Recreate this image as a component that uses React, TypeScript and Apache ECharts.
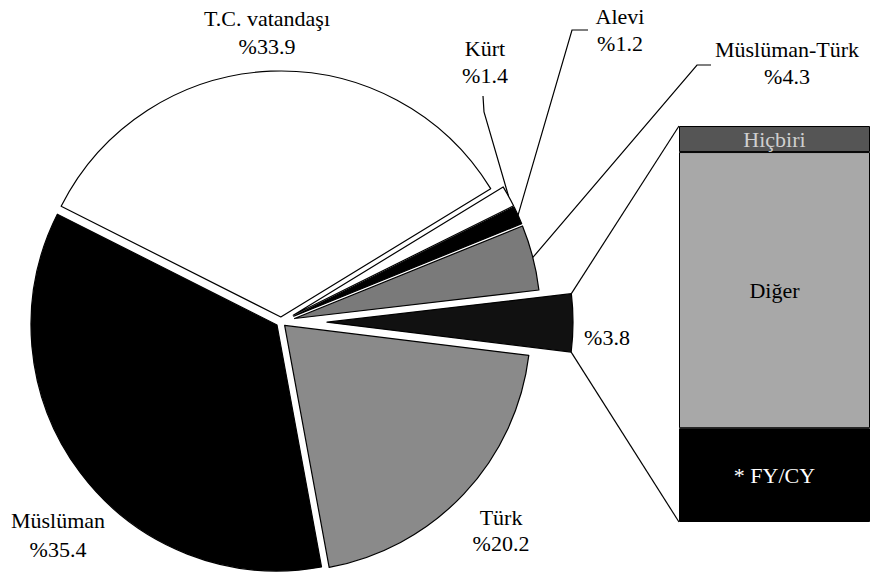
import React, { useEffect, useRef } from 'react';
import * as echarts from 'echarts';

// ---- data ----
const sliceNames = ['Türk', 'Müslüman', 'T.C. vatandaşı', 'Kürt', 'Alevi', 'Müslüman-Türk', ''];
const sliceValues = [20.2, 35.4, 33.9, 1.4, 1.2, 4.3, 3.8];
const barNames = ['* FY/CY', 'Diğer', 'Hiçbiri'];
const barValues = [0.9, 2.65, 0.25];

// ---- layout / style ----
const FONT = "'Liberation Serif', 'Times New Roman', Times, serif";
const CX = 281;
const CY = 322;
const R = 246;
const START = -7;
const sliceColors = ['#8a8a8a', '#000000', '#ffffff', '#ffffff', '#000000', '#7a7a7a', '#111111'];
const sliceOffsets = [5, 5, 5, 14, 14, 14, 46];
const labelPos = [
  [501, 530],
  [58, 535],
  [267, 32],
  [485, 62],
  [620, 30],
  [787, 63],
  [607, 337],
];
const labelLineHeights = [26, 29, 28, 27, 27, 27, 28];
const leaderBends: Record<number, number[][]> = {
  3: [[484, 112], [483, 96]],
  4: [[572, 30], [588, 30]],
  5: [[697, 65], [711, 65]],
};
const BAR_LEFT = 679;
const BAR_TOP = 126;
const BAR_BOTTOM = 522;
const barColors = ['#000000', '#a8a8a8', '#555555'];
const barLabelColors = ['#ffffff', '#000000', '#cfcfcf'];

export default function App() {
  const ref = useRef<HTMLDivElement>(null);
  useEffect(() => {
    document.body.style.margin = '0';
    const chart = echarts.init(ref.current!, undefined, { renderer: 'svg' });
    const total = sliceValues.reduce((a, b) => a + b, 0);
    let acc = 0;
    const rad = Math.PI / 180;
    const geo = sliceValues.map((v, i) => {
      const a0 = START - (acc / total) * 360;
      acc += v;
      const a1 = START - (acc / total) * 360;
      const mid = ((a0 + a1) / 2) * rad;
      return {
        a0: a0 * rad,
        a1: a1 * rad,
        mid,
        cx: CX + sliceOffsets[i] * Math.cos(mid),
        cy: CY - sliceOffsets[i] * Math.sin(mid),
      };
    });

    const pieSeries = sliceValues.map((_, i) => ({
      type: 'pie',
      center: [geo[i].cx, geo[i].cy],
      radius: R,
      startAngle: START,
      clockwise: true,
      avoidLabelOverlap: false,
      silent: true,
      labelLine: { show: false },
      labelLayout: (p: any) =>
        p.dataIndex === i
          ? { x: labelPos[i][0], y: labelPos[i][1], align: 'center', verticalAlign: 'middle' }
          : {},
      data: sliceValues.map((v, j) => ({
        value: v,
        name: sliceNames[j] || 'dilim' + j,
        itemStyle:
          j === i
            ? { color: sliceColors[j], borderColor: '#000', borderWidth: 1.2 }
            : { color: 'rgba(0,0,0,0)', borderWidth: 0 },
        label:
          j === i
            ? {
                show: true,
                position: 'outside',
                formatter: () => (sliceNames[j] ? `${sliceNames[j]}\n%${v}` : `%${v}`),
                fontFamily: FONT,
                fontSize: 22,
                lineHeight: labelLineHeights[j],
                color: '#000',
                align: 'center',
              }
            : { show: false },
      })),
    }));

    const x = geo[6];
    const topCorner = [x.cx + R * Math.cos(x.a0), x.cy - R * Math.sin(x.a0)];
    const botCorner = [x.cx + R * Math.cos(x.a1), x.cy - R * Math.sin(x.a1)];

    const graphics: any[] = [
      { type: 'line', shape: { x1: topCorner[0], y1: topCorner[1], x2: BAR_LEFT, y2: BAR_TOP }, style: { stroke: '#000', lineWidth: 1.2 }, silent: true },
      { type: 'line', shape: { x1: botCorner[0], y1: botCorner[1], x2: BAR_LEFT, y2: BAR_BOTTOM }, style: { stroke: '#000', lineWidth: 1.2 }, silent: true },
    ];
    Object.keys(leaderBends).forEach((k) => {
      const i = Number(k);
      const g = geo[i];
      const start = [g.cx + R * Math.cos(g.mid), g.cy - R * Math.sin(g.mid)];
      graphics.push({
        type: 'polyline',
        shape: { points: [start, ...leaderBends[i]] },
        style: { stroke: '#000', lineWidth: 1.2, fill: null },
        silent: true,
      });
    });

    const barSeries = barValues.map((v, k) => ({
      type: 'bar',
      stack: 'b',
      barWidth: '100%',
      silent: true,
      data: [v],
      itemStyle: { color: barColors[k], borderColor: '#000', borderWidth: 1 },
      label: {
        show: true,
        position: 'inside',
        formatter: barNames[k],
        color: barLabelColors[k],
        fontFamily: FONT,
        fontSize: 22,
      },
    }));

    chart.setOption({
      animation: false,
      backgroundColor: '#ffffff',
      textStyle: { fontFamily: FONT },
      grid: { left: BAR_LEFT, top: BAR_TOP, height: BAR_BOTTOM - BAR_TOP, right: -12 },
      xAxis: { type: 'category', data: ['FY'], show: false },
      yAxis: { type: 'value', min: 0, max: 3.8, show: false },
      series: [...pieSeries, ...barSeries],
      graphic: graphics,
    });
    return () => chart.dispose();
  }, []);
  return <div ref={ref} style={{ width: 870, height: 575, position: 'absolute', left: 0, top: 0 }} />;
}
